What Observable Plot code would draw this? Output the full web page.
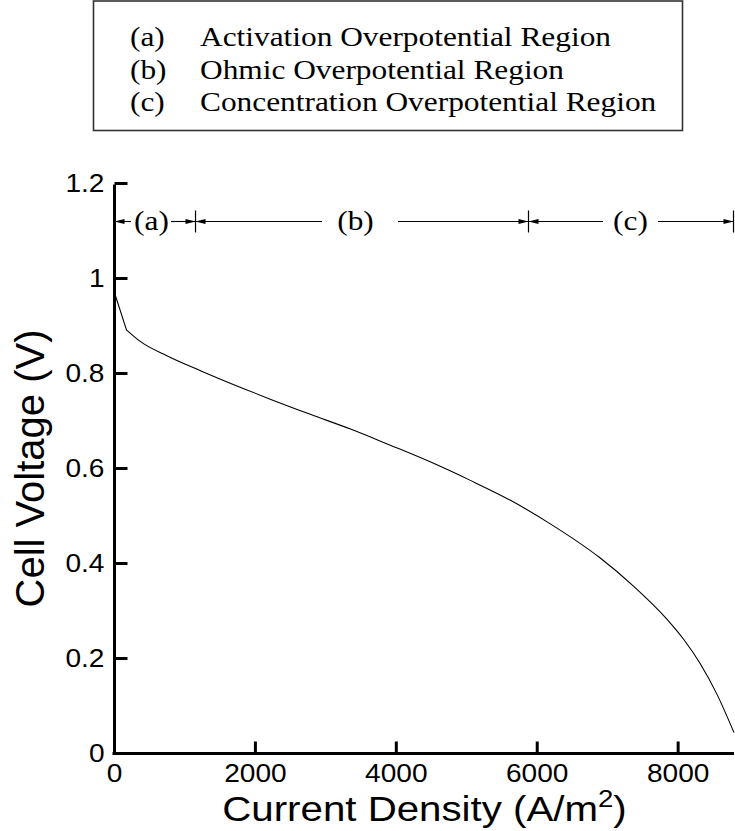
<!DOCTYPE html>
<html><head><meta charset="utf-8">
<script src="https://cdn.jsdelivr.net/npm/d3@7"></script>
<script src="https://cdn.jsdelivr.net/npm/@observablehq/plot@0.6"></script>
<style>
html,body{margin:0;padding:0;background:#fff;}
#wrap{position:relative;width:735px;height:831px;overflow:hidden;}
#legend{position:absolute;left:0;top:0;}
</style></head><body>
<div id="wrap"><div id="chart"></div><svg id="legend" width="735" height="140"></svg></div>
<script>
// ---- data ----
const currentDensity = [0, 170, 370, 750, 1220, 1835, 2210, 2780, 3350, 3915, 4480, 5050, 5620, 6180, 6890, 7370, 7840, 8080, 8310, 8550, 8790];
const cellVoltage   = [0.970, 0.892, 0.867, 0.837, 0.806, 0.768, 0.746, 0.714, 0.683, 0.649, 0.614, 0.575, 0.533, 0.484, 0.412, 0.352, 0.283, 0.240, 0.190, 0.125, 0.045];
const xTickValues = [0, 2000, 4000, 6000, 8000];
const xTickLabels = ["0", "2000", "4000", "6000", "8000"];
const yTickValues = [0, 0.2, 0.4, 0.6, 0.8, 1, 1.2];
const yTickLabels = ["0", "0.2", "0.4", "0.6", "0.8", "1", "1.2"];
const regionKeys = ["(a)", "(b)", "(c)"];
const regionNames = ["Activation Overpotential Region", "Ohmic Overpotential Region", "Concentration Overpotential Region"];
const regionBounds = [0, 1150, 5876, 8786];
const regionLabelAt = [525, 3421, 7324];
const regionGapFrom = [241, 2952, 6941];
const regionGapTo = [809, 4031, 7722];
const regionLevel = 1.12;
const xTitleParts = ["Current Density (A/m", "2", ")"];
const yTitle = "Cell Voltage (V)";

// ---- derived tables ----
const curve = currentDensity.map((x, i) => ({x, y: cellVoltage[i]}));
const curveStart = curve.slice(0, 2);   // straight initial drop
const curveRest = curve.slice(1);       // smooth remainder
const xTitle = xTitleParts.join("");
const segments = regionKeys.flatMap((k, i) => [
  {x1: regionBounds[i], x2: regionGapFrom[i]},
  {x1: regionGapTo[i], x2: regionBounds[i + 1]}
]);
const regions = regionKeys.map((k, i) => ({key: k, from: regionBounds[i], to: regionBounds[i + 1], at: regionLabelAt[i]}));

const sym = (fn) => ({draw: fn});
const arrowRight = sym(c => {c.moveTo(0, 0); c.lineTo(-10, -2.6); c.lineTo(-10, 2.6); c.closePath();});
const arrowLeft = sym(c => {c.moveTo(0, 0); c.lineTo(10, -2.6); c.lineTo(10, 2.6); c.closePath();});
const yTickSym = sym(c => {c.moveTo(0, 0); c.lineTo(13, 0);});
const xTickSym = sym(c => {c.moveTo(0, 0); c.lineTo(0, -12);});
const barSym = sym(c => {c.moveTo(0, -11); c.lineTo(0, 11);});

const sans = "'Liberation Sans', Arial, Helvetica, sans-serif";
const serif = "'Liberation Serif', 'Times New Roman', serif";

const chart = Plot.plot({
  width: 735, height: 831,
  marginTop: 183, marginBottom: 78, marginLeft: 114, marginRight: 1,
  x: {domain: [0, 8800], axis: null},
  y: {domain: [0, 1.2], axis: null},
  style: {background: "#fff", overflow: "visible"},
  marks: [
    Plot.line(curveStart, {x: "x", y: "y", stroke: "#000", strokeWidth: 1.1}),
    Plot.line(curveRest, {x: "x", y: "y", stroke: "#000", strokeWidth: 1.1, curve: "monotone-x"}),
    // axes
    Plot.ruleX([0], {x: d => d, y1: () => 0, y2: () => 1.2, stroke: "#000", strokeWidth: 3, insetTop: -5, insetBottom: -1.5}),
    Plot.ruleY([0], {y: d => d, x1: () => 0, x2: () => 8800, stroke: "#000", strokeWidth: 3, insetLeft: -1.5}),
    Plot.dot(yTickValues, {x: () => 0, y: d => d, symbol: yTickSym, fill: "none", stroke: "#000", strokeWidth: 3}),
    Plot.dot(xTickValues, {x: d => d, y: () => 0, symbol: xTickSym, fill: "none", stroke: "#000", strokeWidth: 3}),
    Plot.text(yTickValues, {x: () => 0, y: d => d, text: (d, i) => yTickLabels[i], textAnchor: "end", dx: -10, fontSize: 26, fontFamily: sans, fill: "#000"}),
    Plot.text(xTickValues, {x: d => d, y: () => 0, text: (d, i) => xTickLabels[i], lineAnchor: "top", dy: 10, fontSize: 26, fontFamily: sans, fill: "#000"}),
    Plot.text([yTitle], {text: d => d, x: () => 0, y: () => 0.6, dx: -71, rotate: -90, textAnchor: "middle", lineAnchor: "bottom", fontSize: 40, fontFamily: sans, fill: "#000"}),
    Plot.text([xTitle], {text: d => d, frameAnchor: "bottom", dy: 67, textAnchor: "middle", lineAnchor: "bottom", fontSize: 35, fontFamily: sans, fill: "#000"}),
    // region annotation
    Plot.ruleY(segments, {y: () => regionLevel, x1: "x1", x2: "x2", stroke: "#000", strokeWidth: 1.1}),
    Plot.dot(regions, {x: "to", y: () => regionLevel, symbol: arrowRight, fill: "#000", stroke: "none"}),
    Plot.dot(regions, {x: "from", y: () => regionLevel, symbol: arrowLeft, fill: "#000", stroke: "none"}),
    Plot.dot(regionBounds.slice(1), {x: d => d, y: () => regionLevel, symbol: barSym, fill: "none", stroke: "#000", strokeWidth: 1.2}),
    Plot.text(regions, {x: "at", y: () => regionLevel, text: "key", fontSize: 28, fontFamily: serif, fill: "#000"})
  ]
});
document.getElementById("chart").appendChild(chart);

// ---- legend box ----
const leg = d3.select("#legend");
leg.append("rect").attr("x", 93.5).attr("y", 1).attr("width", 589).attr("height", 129.5)
  .attr("fill", "none").attr("stroke", "#333").attr("stroke-width", 1.6);
regionKeys.forEach((k, i) => {
  const y = 46 + i * 32.5;
  leg.append("text").attr("x", 130).attr("y", y).text(k)
    .attr("font-family", serif).attr("font-size", 28).attr("fill", "#000");
  leg.append("text").attr("x", 200).attr("y", y).text(regionNames[i])
    .attr("font-family", serif).attr("font-size", 28).attr("fill", "#000");
});

// ---- horizontal stretch to match the reference's wide lettering ----
const legTexts = leg.selectAll("text").nodes();
const serifFactor = 411 / legTexts[1].getComputedTextLength();
function stretch(node, f) {
  const w = node.getComputedTextLength();
  node.setAttribute("textLength", (w * f).toFixed(2));
  node.setAttribute("lengthAdjust", "spacingAndGlyphs");
}
legTexts.forEach(n => stretch(n, serifFactor));
d3.select(chart).selectAll("text").each(function () {
  const t = this.textContent;
  if (regionKeys.includes(t)) stretch(this, serifFactor);
  else if (xTickLabels.includes(t) || yTickLabels.includes(t)) stretch(this, 1.08);
  else if (t === xTitle) {
    // real superscript for the exponent
    const el = d3.select(this).text(null);
    el.append("tspan").text(xTitleParts[0]);
    el.append("tspan").attr("dy", -14).attr("font-size", 24).text(xTitleParts[1]);
    el.append("tspan").attr("dy", 14).text(xTitleParts[2]);
    stretch(this, 1.15);
  }
});
</script>
</body></html>
